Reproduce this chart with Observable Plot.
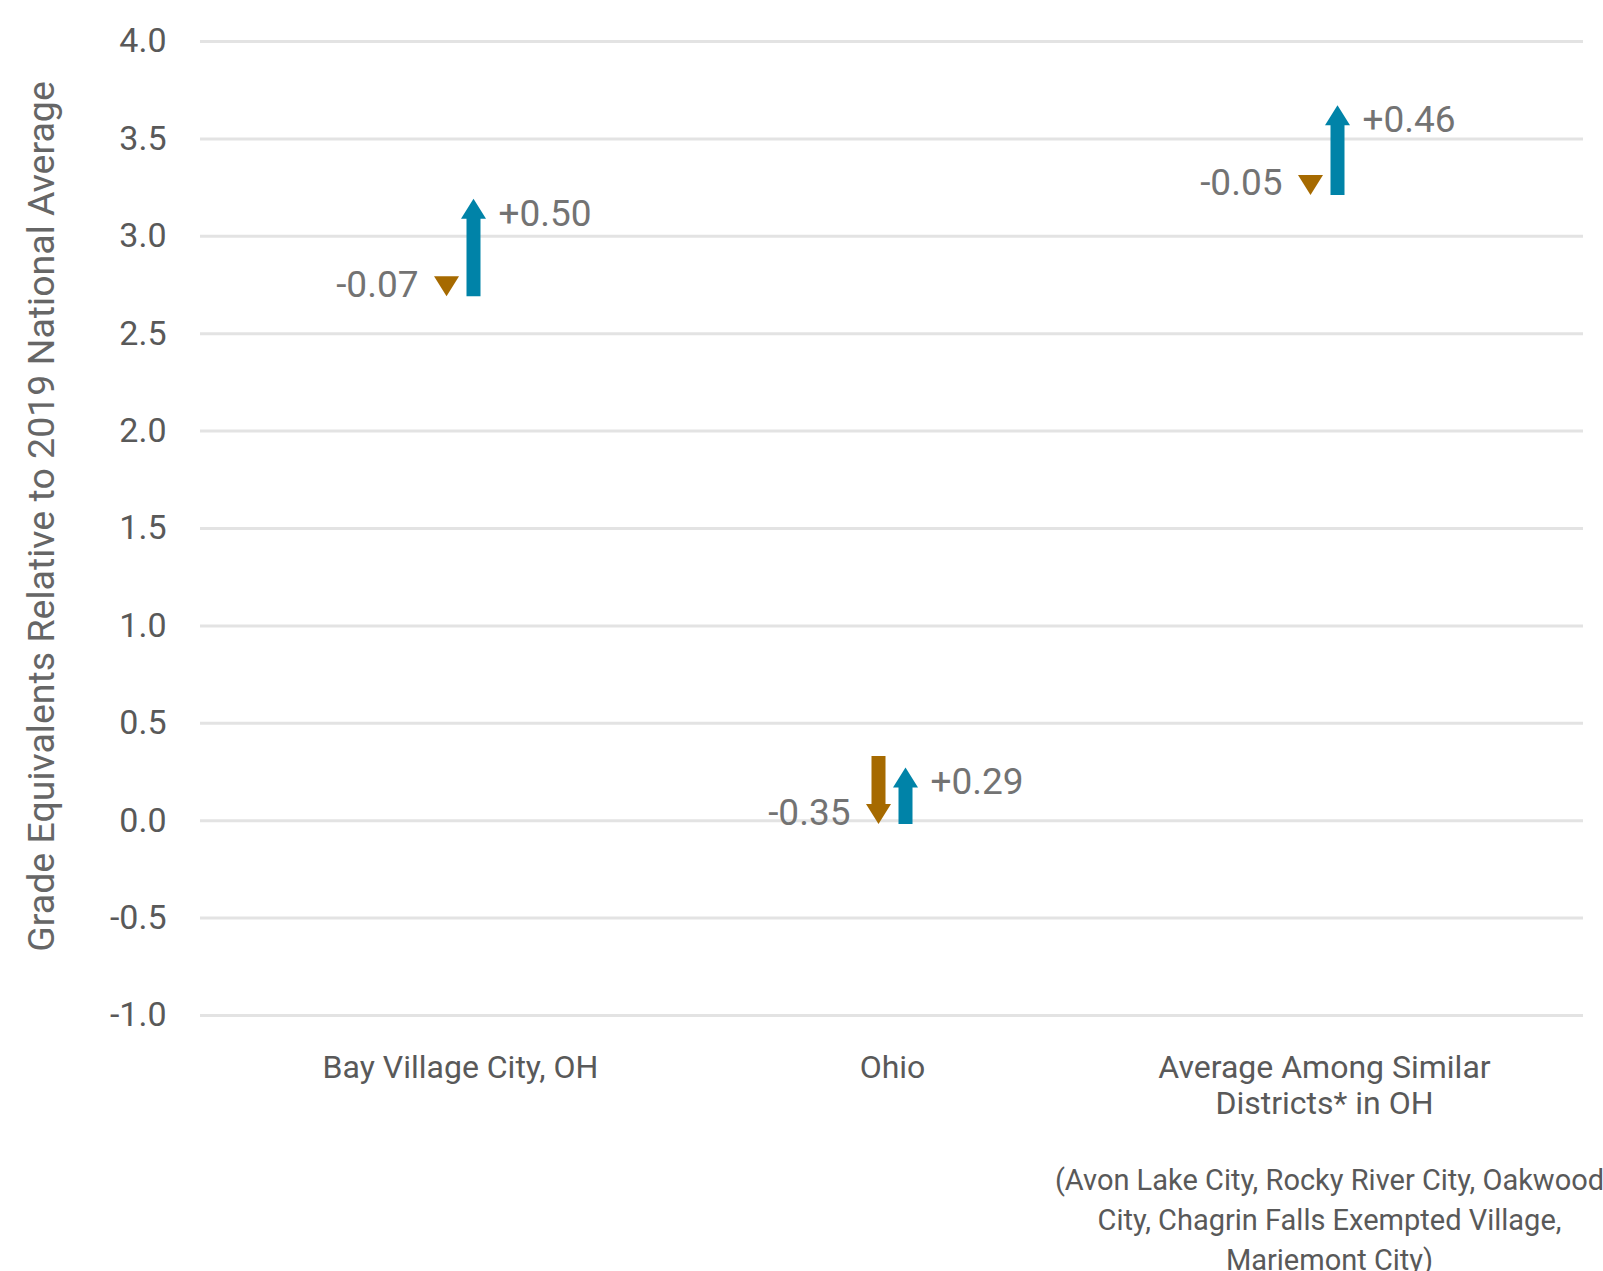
<!DOCTYPE html>
<html>
<head>
<meta charset="utf-8">
<script src="https://cdn.jsdelivr.net/npm/d3@7"></script>
<script src="https://cdn.jsdelivr.net/npm/@observablehq/plot@0.6"></script>
<style>
  html, body { margin: 0; padding: 0; background: #fff; }
  #chart svg { display: block; }
</style>
</head>
<body>
<div id="chart"></div>
<script>
// ---- data ----
const categories = ["Bay Village City, OH", "Ohio", "Average Among Similar Districts* in OH"];
const categoryLabels = ["Bay Village City, OH", "Ohio", "Average Among Similar\nDistricts* in OH"];
const start2019 = [2.76, 0.33, 3.26];      // starting level (grade equivalents vs 2019 national avg)
const decline = [-0.07, -0.35, -0.05];     // change shown by brown arrow
const recovery = [0.50, 0.29, 0.46];       // change shown by blue arrow
const yTicks = [-1, -0.5, 0, 0.5, 1, 1.5, 2, 2.5, 3, 3.5, 4];
const yTitle = "Grade Equivalents Relative to 2019 National Average";
const footnote = "(Avon Lake City, Rocky River City, Oakwood\nCity, Chagrin Falls Exempted Village,\nMariemont City)";

// ---- derived tables ----
const rows = categories.map((c, i) => ({
  category: c,
  start: start2019[i],
  mid: start2019[i] + decline[i],
  end: start2019[i] + decline[i] + recovery[i],
  decline: decline[i],
  recovery: recovery[i]
}));
const arrows = rows.flatMap(r => [
  {category: r.category, from: r.start, to: r.mid, kind: "decline"},
  {category: r.category, from: r.mid, to: r.end, kind: "recovery"}
]);

// ---- style ----
const BROWN = "#a66a00";
const BLUE = "#0083a8";
const OFFSET = 13.5, SHAFT_HALF = 7, HEAD_HALF = 12.5, HEAD_LEN = 20;
const FONT = "Roboto, 'Liberation Sans', sans-serif";

function blockArrows(index, scales) {
  const g = d3.create("svg:g");
  for (const a of arrows) {
    const cx = scales.x(a.category) + (a.kind === "decline" ? -OFFSET : OFFSET);
    const y0 = scales.y(a.from), y1 = scales.y(a.to);
    const dir = Math.sign(y1 - y0) || 1;
    const base = y1 - dir * HEAD_LEN;
    const hasShaft = (base - y0) * dir > 0;
    const d = hasShaft
      ? `M${cx - SHAFT_HALF},${y0}L${cx + SHAFT_HALF},${y0}L${cx + SHAFT_HALF},${base}L${cx + HEAD_HALF},${base}L${cx},${y1}L${cx - HEAD_HALF},${base}L${cx - SHAFT_HALF},${base}Z`
      : `M${cx - HEAD_HALF},${base}L${cx},${y1}L${cx + HEAD_HALF},${base}Z`;
    g.append("path").attr("d", d).attr("fill", a.kind === "decline" ? BROWN : BLUE);
  }
  return g.node();
}

const chart = Plot.plot({
  width: 1603,
  height: 1271,
  marginLeft: 200,
  marginRight: 20,
  marginTop: 41,
  marginBottom: 256,
  style: {fontFamily: FONT, color: "#595959", background: "#fff"},
  x: {type: "point", domain: categories, padding: 0.598, axis: null},
  y: {domain: [-1, 4], axis: null},
  marks: [
    Plot.ruleY(yTicks, {stroke: "#e3e3e3", strokeWidth: 3}),
    Plot.axisY(yTicks, {
      tickSize: 0, tickPadding: 34, fontSize: 34, fill: "#595959",
      tickFormat: d => d.toFixed(1), label: null
    }),
    Plot.text([yTitle], {
      frameAnchor: "left", textAnchor: "middle", lineAnchor: "middle",
      rotate: -90, dx: -159, dy: -12,
      fontSize: 37.5, fill: "#666666", text: d => d
    }),
    blockArrows,
    Plot.text(rows, {
      x: "category", y: "mid", text: d => d.decline.toFixed(2),
      dx: -42, textAnchor: "end", lineAnchor: "bottom",
      fontSize: 37, fill: "#737373"
    }),
    Plot.text(rows, {
      x: "category", y: "end", text: d => "+" + d.recovery.toFixed(2),
      dx: 38, textAnchor: "start", lineAnchor: "top",
      fontSize: 37, fill: "#737373"
    }),
    Plot.text(categories, {
      x: d => d, text: (d, i) => categoryLabels[i],
      frameAnchor: "bottom", lineAnchor: "top", dy: 37,
      fontSize: 32, lineHeight: 1.12, fill: "#595959"
    }),
    Plot.text([footnote], {
      x: () => categories[2], text: d => d,
      frameAnchor: "bottom", lineAnchor: "top", dx: 5, dy: 146,
      fontSize: 29, lineHeight: 1.38, fill: "#595959"
    })
  ]
});
document.getElementById("chart").appendChild(chart);
</script>
</body>
</html>
